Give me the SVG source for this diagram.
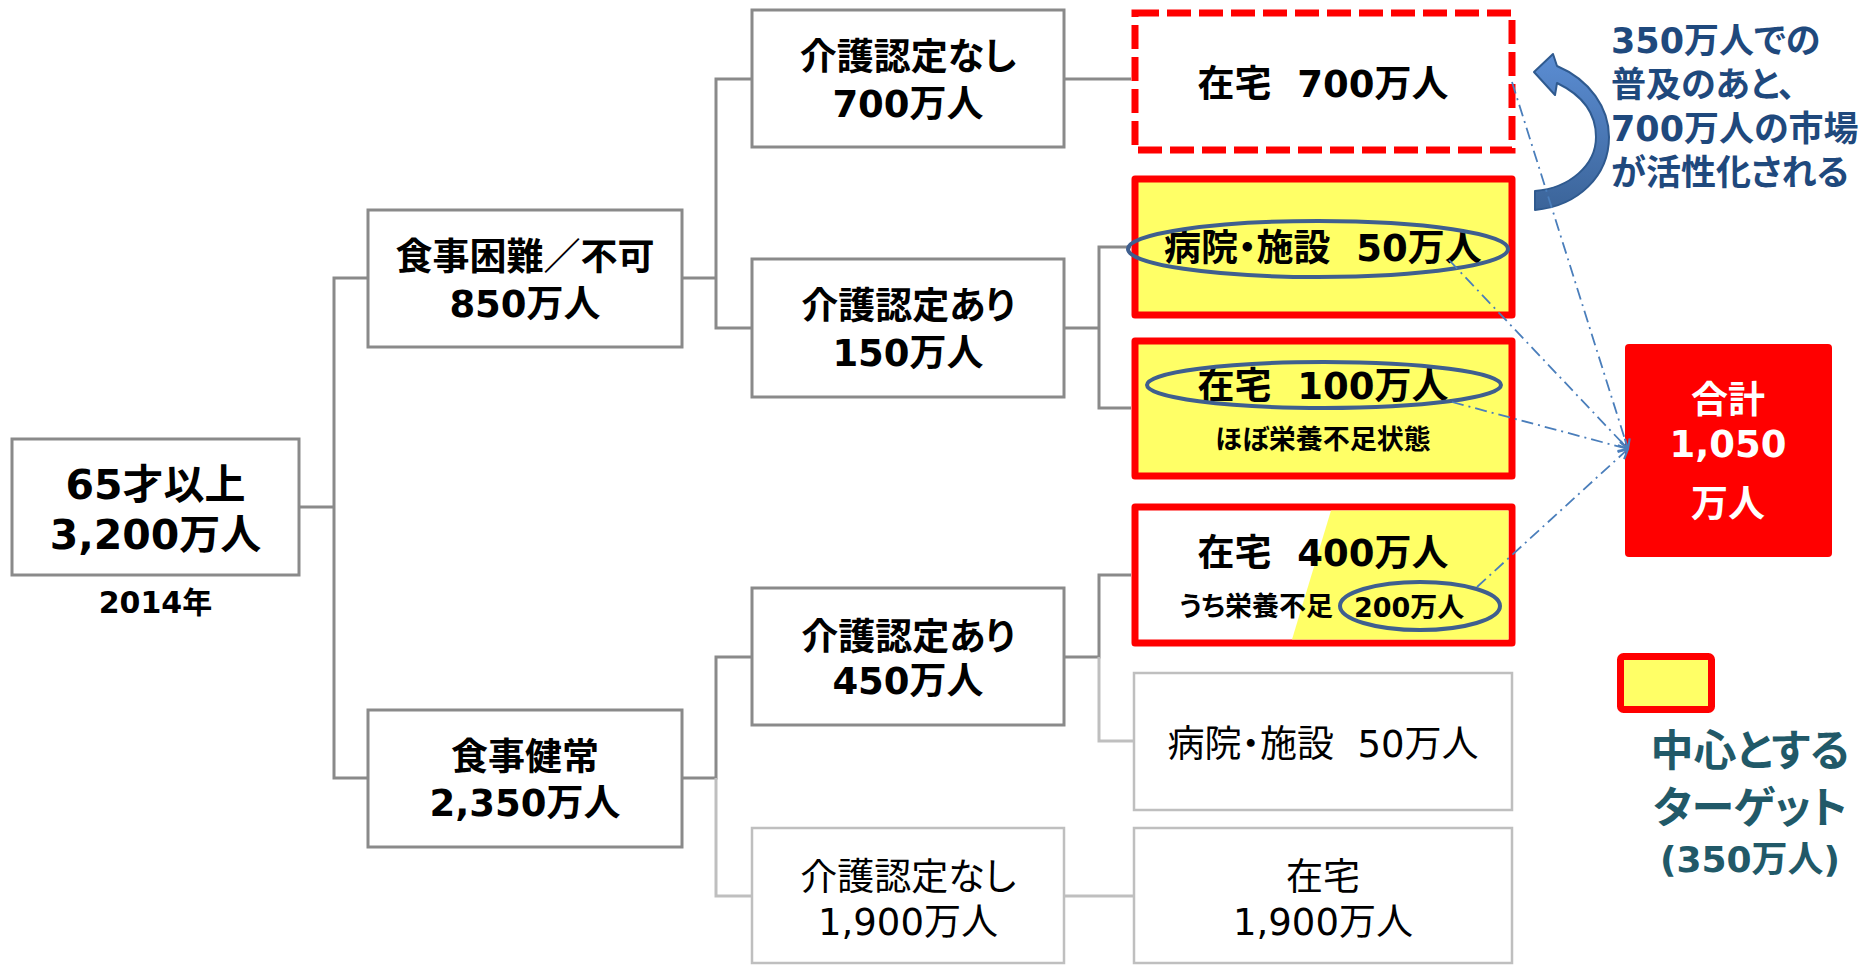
<svg xmlns="http://www.w3.org/2000/svg" width="1874" height="966" viewBox="0 0 1874 966">
<defs>
<style>
.t{font-family:"DejaVu Sans","Noto Sans CJK JP",sans-serif;text-anchor:middle;font-feature-settings:"palt";}
.bd{font-weight:bold;fill:#000;}
.rg{font-weight:normal;fill:#000;}
.box{fill:#fff;stroke:#8a8a8a;stroke-width:3;}
.lbox{fill:#fff;stroke:#bfbfbf;stroke-width:2.5;}
.ybox{fill:#ffff66;stroke:#ff0000;stroke-width:7;stroke-linejoin:round;}
.cd{fill:none;stroke:#8a8a8a;stroke-width:3;}
.cl{fill:none;stroke:#bfbfbf;stroke-width:3;}
.ell{fill:none;stroke:#3f5f8f;stroke-width:4;}
.dd{fill:none;stroke:#4a7ebb;stroke-width:1.8;stroke-dasharray:12 5 2 5;}
</style>
<marker id="ah" markerUnits="userSpaceOnUse" markerWidth="12" markerHeight="12" refX="9" refY="5" orient="auto" viewBox="0 0 10 10">
<path d="M1,1 L9,5 L1,9" fill="none" stroke="#4a7ebb" stroke-width="1.8"/>
</marker>
<linearGradient id="ag" x1="0" y1="0" x2="0" y2="1">
<stop offset="0" stop-color="#5b8dd3"/><stop offset="1" stop-color="#3b6499"/>
</linearGradient>
</defs>
<rect x="0" y="0" width="1874" height="966" fill="#fff"/>

<g id="connectors">
<path class="cd" d="M299,507 H334 M368,278 H334 V778 H368"/>
<path class="cd" d="M682,278 H716 M752,79 H716 V328 H752"/>
<path class="cd" d="M1064,79 H1131"/>
<path class="cd" d="M1064,328 H1099 M1131,247 H1099 V408 H1131"/>
<path class="cd" d="M682,778 H716 V657 H752"/>
<path class="cl" d="M716,778 V896 H752"/>
<path class="cd" d="M1064,657 H1099 V575 H1131"/>
<path class="cl" d="M1099,657 V741 H1134"/>
<path class="cl" d="M1064,896 H1134"/>
</g>

<g id="n-65">
<rect class="box" x="12" y="439" width="287" height="136"/>
<text class="t bd" x="155.5" y="499" font-size="41">65才以上</text>
<text class="t bd" x="155.5" y="549" font-size="41">3,200万人</text>
</g>
<text id="year" class="t bd" x="155.5" y="613" font-size="30">2014年</text>

<g id="n-konnan">
<rect class="box" x="368" y="210" width="314" height="137"/>
<text class="t bd" x="525" y="270" font-size="37">食事困難／不可</text>
<text class="t bd" x="525" y="317" font-size="37">850万人</text>
</g>

<g id="n-kenjo">
<rect class="box" x="368" y="710" width="314" height="137"/>
<text class="t bd" x="525" y="770" font-size="37">食事健常</text>
<text class="t bd" x="525" y="816" font-size="37">2,350万人</text>
</g>

<g id="n-nashi700">
<rect class="box" x="752" y="10" width="312" height="137"/>
<text class="t bd" x="908" y="70" font-size="37">介護認定なし</text>
<text class="t bd" x="908" y="117" font-size="37">700万人</text>
</g>

<g id="n-ari150">
<rect class="box" x="752" y="259" width="312" height="138"/>
<text class="t bd" x="908" y="319" font-size="37">介護認定あり</text>
<text class="t bd" x="908" y="366" font-size="37">150万人</text>
</g>

<g id="n-ari450">
<rect class="box" x="752" y="588" width="312" height="137"/>
<text class="t bd" x="908" y="650" font-size="37">介護認定あり</text>
<text class="t bd" x="908" y="694" font-size="37">450万人</text>
</g>

<g id="n-nashi1900">
<rect class="lbox" x="752" y="828" width="312" height="135"/>
<text class="t rg" x="908" y="890" font-size="37">介護認定なし</text>
<text class="t rg" x="908" y="935" font-size="37">1,900万人</text>
</g>

<g id="n-zaitaku700">
<rect x="1135" y="13" width="377" height="137" fill="#fff" stroke="#ff0000" stroke-width="7" stroke-dasharray="24 8"/>
<text class="t bd" x="1323" y="97" font-size="37">在宅&#160;&#160;700万人</text>
</g>

<g id="n-byoin50">
<rect class="ybox" x="1135" y="179" width="377" height="136"/>
<text class="t bd" x="1323" y="261" font-size="37">病院・施設&#160;&#160;50万人</text>
<ellipse class="ell" cx="1318" cy="249" rx="190" ry="28"/>
</g>

<g id="n-zaitaku100">
<rect class="ybox" x="1135" y="341" width="377" height="135"/>
<text class="t bd" x="1323" y="399" font-size="37">在宅&#160;&#160;100万人</text>
<ellipse class="ell" cx="1324" cy="385" rx="177" ry="23"/>
<text class="t bd" x="1323" y="449" font-size="27">ほぼ栄養不足状態</text>
</g>

<g id="n-zaitaku400">
<rect class="ybox" x="1135" y="507" width="377" height="136" style="fill:#fff"/>
<polygon points="1331,510.5 1508.5,510.5 1508.5,639.5 1292,639.5" fill="#ffff66"/>
<text class="t bd" x="1323" y="566" font-size="37">在宅&#160;&#160;400万人</text>
<text class="t bd" x="1333" y="616" font-size="27" style="text-anchor:end">うち栄養不足</text>
<text class="t bd" x="1354" y="617" font-size="27" style="text-anchor:start">200万人</text>
<ellipse class="ell" cx="1420" cy="606" rx="80" ry="24"/>
</g>

<g id="n-byoin50b">
<rect class="lbox" x="1134" y="673" width="378" height="137"/>
<text class="t rg" x="1323" y="757" font-size="37">病院・施設&#160;&#160;50万人</text>
</g>

<g id="n-zaitaku1900">
<rect class="lbox" x="1134" y="828" width="378" height="135"/>
<text class="t rg" x="1323" y="890" font-size="37">在宅</text>
<text class="t rg" x="1323" y="935" font-size="37">1,900万人</text>
</g>

<g id="n-total">
<rect x="1625" y="344" width="207" height="213" rx="4" fill="#ff0000"/>
<text class="t bd" x="1728" y="413" font-size="37" style="fill:#fff">合計</text>
<text class="t bd" x="1728" y="457" font-size="37" style="fill:#fff">1,050</text>
<text class="t bd" x="1728" y="517" font-size="37" style="fill:#fff">万人</text>
</g>

<g id="curved-arrow">
<path d="M1557,66 C1590,80 1609,108 1609,137 C1609,176 1578,206 1535,210 L1535,191 C1570,188 1596,165 1596,137 C1596,113 1582,95 1557,83 L1555,95 L1534,72 L1553,54 Z" fill="url(#ag)" stroke="#2f5a8f" stroke-width="2" stroke-linejoin="round"/>
</g>

<g id="note" class="t bd" style="text-anchor:start;fill:#1f497d" font-size="35">
<text x="1611" y="53">350万人での</text>
<text x="1611" y="97">普及のあと、</text>
<text x="1611" y="141">700万人の市場</text>
<text x="1611" y="185">が活性化される</text>
</g>

<g id="legend">
<rect x="1620.5" y="656.5" width="91" height="53" rx="3" fill="#ffff66" stroke="#ff0000" stroke-width="7"/>
<text class="t bd" x="1750" y="766" font-size="43" style="fill:#215968">中心とする</text>
<text class="t bd" x="1750" y="823" font-size="43" style="fill:#215968">ターゲット</text>
<text class="t bd" x="1750" y="872" font-size="36" style="fill:#215968">(350万人)</text>
</g>

<g id="sum-links">
<path class="dd" d="M1512,82 L1628,449" marker-end="url(#ah)"/>
<path class="dd" d="M1449,260 L1628,449" marker-end="url(#ah)"/>
<path class="dd" d="M1452,402 L1628,449" marker-end="url(#ah)"/>
<path class="dd" d="M1477,587 L1628,449" marker-end="url(#ah)"/>
</g>
</svg>
